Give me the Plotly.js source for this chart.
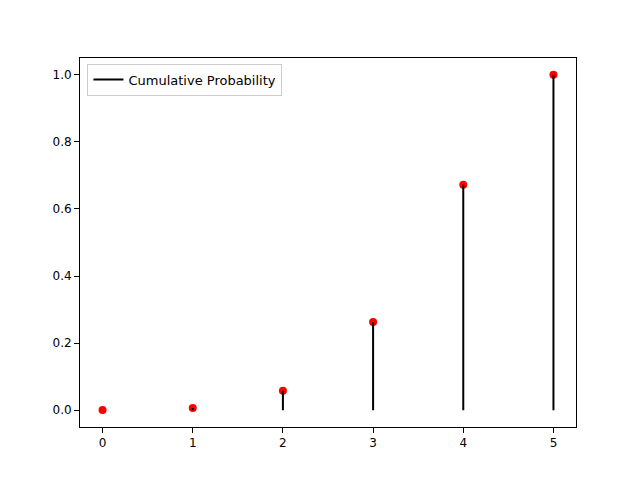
<!DOCTYPE html>
<html>
<head>
<meta charset="utf-8">
<script src="https://cdn.plot.ly/plotly-3.0.1.min.js"></script>
<style>html,body{margin:0;padding:0;background:#fff}#chart{width:640px;height:480px}</style>
</head>
<body>
<div id="chart"></div>
<script>
var outcomes = [0, 1, 2, 3, 4, 5];
var cumulative = [0.00032, 0.00672, 0.05792, 0.26272, 0.67232, 1.0];

// vertical lines from 0 to each cumulative value, separated by nulls
var lineX = [], lineY = [];
outcomes.forEach(function (x, i) {
  lineX.push(x, x, null);
  lineY.push(0, cumulative[i], null);
});

var linesTrace = {
  x: lineX, y: lineY,
  mode: 'lines',
  line: { color: 'black', width: 2 },
  name: 'Cumulative Probability',
  hoverinfo: 'skip'
};

var dotsTrace = {
  x: outcomes, y: cumulative,
  mode: 'markers',
  marker: { color: 'red', size: 8 },
  showlegend: false
};

var axisBase = {
  showgrid: false, zeroline: false,
  showline: true, mirror: true, linecolor: 'black', linewidth: 1,
  ticks: 'outside', ticklen: 5, tickcolor: 'black',
  tickfont: { size: 12, color: 'black' }
};

var layout = {
  width: 640, height: 480,
  paper_bgcolor: 'white', plot_bgcolor: 'white',
  font: { family: 'DejaVu Sans', color: 'black' },
  margin: { l: 80, r: 64, t: 58, b: 53 },
  xaxis: Object.assign({}, axisBase, { range: [-0.25, 5.25], dtick: 1 }),
  yaxis: Object.assign({}, axisBase, { range: [-0.05, 1.05], dtick: 0.2, tickformat: '.1f' }),
  showlegend: true,
  legend: {
    x: 0.015, y: 0.985, xanchor: 'left', yanchor: 'top',
    bgcolor: 'rgba(255,255,255,0.8)', bordercolor: '#cccccc', borderwidth: 1,
    font: { size: 13 }
  }
};

Plotly.newPlot('chart', [dotsTrace, linesTrace], layout, { displayModeBar: false, staticPlot: true });
</script>
</body>
</html>
